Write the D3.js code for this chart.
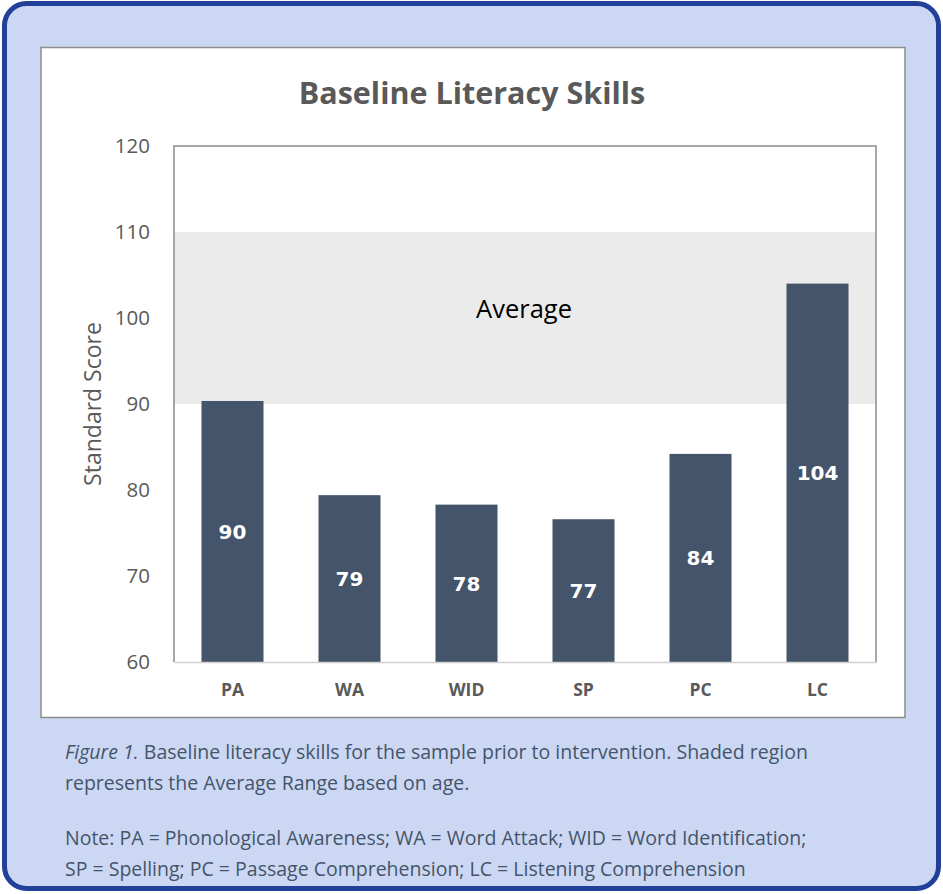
<!DOCTYPE html>
<html>
<head>
<meta charset="utf-8">
<script src="https://cdn.jsdelivr.net/npm/d3@7"></script>
<style>
  html, body { margin: 0; padding: 0; background: #ffffff; }
  svg { display: block; }
</style>
</head>
<body>
<div id="chart"></div>
<script>
// data
const categories = ["PA", "WA", "WID", "SP", "PC", "LC"];
const scores = [90.35, 79.4, 78.3, 76.6, 84.2, 104.0];
const scoreLabels = ["90", "79", "78", "77", "84", "104"];
const yTicks = [60, 70, 80, 90, 100, 110, 120];
const averageRange = [90, 110];

const width = 943;
const height = 894;
const plot = { left: 174, top: 146, right: 876, bottom: 662 };

const svg = d3.select("#chart")
    .append("svg")
    .attr("width", width)
    .attr("height", height);

// outer card
svg.append("rect")
    .attr("x", 4.5).attr("y", 3.5)
    .attr("width", 934).attr("height", 885)
    .attr("rx", 22).attr("ry", 22)
    .attr("fill", "#ccd8f3")
    .attr("stroke", "#21409a")
    .attr("stroke-width", 5);

// white chart panel
svg.append("rect")
    .attr("x", 41).attr("y", 47.5)
    .attr("width", 864).attr("height", 670)
    .attr("fill", "#ffffff")
    .attr("stroke", "#8c8c8c")
    .attr("stroke-width", 1.5);

const x = d3.scaleBand()
    .domain(categories)
    .range([plot.left, plot.right])
    .paddingInner(0.47)
    .paddingOuter(0.235);

const y = d3.scaleLinear()
    .domain([60, 120])
    .range([plot.bottom, plot.top]);

// shaded average band
svg.append("rect")
    .attr("x", plot.left)
    .attr("y", y(averageRange[1]))
    .attr("width", plot.right - plot.left)
    .attr("height", y(averageRange[0]) - y(averageRange[1]))
    .attr("fill", "#ebebeb");

svg.append("text")
    .attr("x", 524)
    .attr("y", y(100))
    .attr("text-anchor", "middle")
    .style("font-family", "'Open Sans', sans-serif")
    .style("font-size", "25.5px")
    .style("fill", "#000")
    .text("Average");

// bars
svg.selectAll("rect.bar")
    .data(scores)
    .enter()
    .append("rect")
    .attr("class", "bar")
    .attr("x", (d, i) => x(categories[i]))
    .attr("y", d => y(d))
    .attr("width", x.bandwidth())
    .attr("height", d => y(60) - y(d))
    .attr("fill", "#44546a");

svg.selectAll("text.val")
    .data(scores)
    .enter()
    .append("text")
    .attr("class", "val")
    .attr("x", (d, i) => x(categories[i]) + x.bandwidth() / 2)
    .attr("y", d => (y(d) + y(60)) / 2)
    .attr("dy", "0.36em")
    .attr("text-anchor", "middle")
    .style("font-family", "'DejaVu Sans', sans-serif")
    .style("font-weight", "bold")
    .style("font-size", "20px")
    .style("fill", "#fff")
    .text((d, i) => scoreLabels[i]);

// frame
svg.append("path")
    .attr("d", `M${plot.left},${plot.bottom}V${plot.top}H${plot.right}V${plot.bottom}`)
    .attr("fill", "none")
    .attr("stroke", "#8c8c8c")
    .attr("stroke-width", 1.5);

// x axis
const xAxis = svg.append("g")
    .attr("transform", `translate(0,${plot.bottom})`)
    .call(d3.axisBottom(x).tickSize(0).tickPadding(0));
xAxis.select(".domain").attr("stroke", "#d0d0d0").attr("stroke-width", 1.5);
xAxis.selectAll("text")
    .attr("y", 34)
    .attr("dy", null)
    .style("font-family", "'Open Sans', sans-serif")
    .style("font-weight", "bold")
    .style("font-size", "17.5px")
    .style("fill", "#595959");

// y axis
const yAxis = svg.append("g")
    .attr("transform", `translate(${plot.left},0)`)
    .call(d3.axisLeft(y).tickValues(yTicks).tickSize(0).tickPadding(24));
yAxis.select(".domain").remove();
yAxis.selectAll("text")
    .style("font-family", "'Open Sans', sans-serif")
    .style("font-size", "20.5px")
    .style("fill", "#595959");

svg.append("text")
    .attr("transform", `translate(101,${(plot.top + plot.bottom) / 2}) rotate(-90)`)
    .attr("text-anchor", "middle")
    .style("font-family", "'Open Sans', sans-serif")
    .style("font-size", "23px")
    .style("fill", "#595959")
    .text("Standard Score");

// title
svg.append("text")
    .attr("x", 472)
    .attr("y", 104)
    .attr("text-anchor", "middle")
    .style("font-family", "'Open Sans', sans-serif")
    .style("font-weight", "bold")
    .style("font-size", "30.5px")
    .style("fill", "#595959")
    .text("Baseline Literacy Skills");

// caption
const caption = svg.append("g")
    .style("font-family", "'Open Sans', sans-serif")
    .style("font-size", "19.5px")
    .style("fill", "#44546a");

const l1 = caption.append("text").attr("x", 65).attr("y", 759);
l1.append("tspan").style("font-style", "italic").text("Figure 1.");
l1.append("tspan").text(" Baseline literacy skills for the sample prior to intervention. Shaded region");
caption.append("text").attr("x", 65).attr("y", 790)
    .text("represents the Average Range based on age.");
caption.append("text").attr("x", 65).attr("y", 845)
    .text("Note: PA = Phonological Awareness; WA = Word Attack; WID = Word Identification;");
caption.append("text").attr("x", 65).attr("y", 876)
    .text("SP = Spelling; PC = Passage Comprehension; LC = Listening Comprehension");
</script>
</body>
</html>
